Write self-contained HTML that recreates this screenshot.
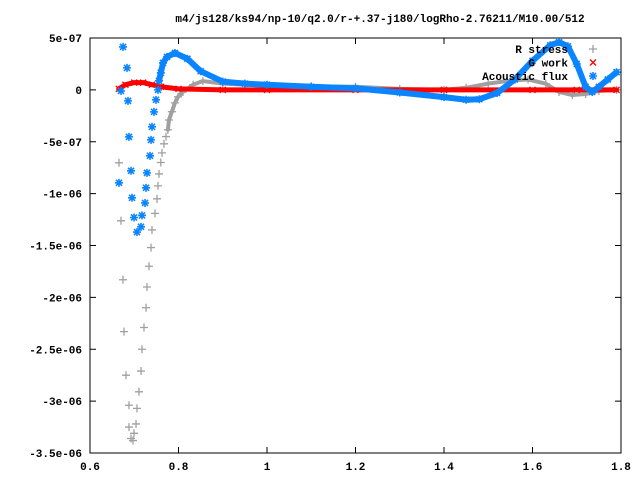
<!DOCTYPE html>
<html><head><meta charset="utf-8"><style>
html,body{margin:0;padding:0;background:#fff}
svg{display:block}
text{font-family:"Liberation Mono",monospace;font-size:11px;font-weight:bold;fill:#000}
</style></head><body>
<svg id="chart" width="640" height="480" xmlns="http://www.w3.org/2000/svg">
<text x="380" y="22" text-anchor="middle">m4/js128/ks94/np-10/q2.0/r-+.37-j180/logRho-2.76211/M10.00/512</text>
<g id="grid"></g>
<g id="series"></g>
<g id="legend"></g>
</svg>
<script>
const xTicks=[0.6,0.8,1,1.2,1.4,1.6,1.8];
const yTicks=[5e-7,0,-5e-7,-1e-6,-1.5e-6,-2e-6,-2.5e-6,-3e-6,-3.5e-6];
const yTickLabels=["5e-07","0","-5e-07","-1e-06","-1.5e-06","-2e-06","-2.5e-06","-3e-06","-3.5e-06"];
const xTickLabels=["0.6","0.8","1","1.2","1.4","1.6","1.8"];
const rStressX=[0.6655,0.670,0.6746,0.6768,0.6814,0.6881,0.6881,0.6927,0.6972,0.6994,0.704,0.7062,0.7107,0.7153,0.7175,0.722,0.7266,0.7288,0.7333,0.7379,0.7401,0.7469,0.7514,0.7537,0.756,0.760,0.7627,0.7672,0.7717];
const rStressY=[-7.03e-7,-1.262e-6,-1.83e-6,-2.33e-6,-2.75e-6,-3.04e-6,-3.25e-6,-3.36e-6,-3.38e-6,-3.31e-6,-3.22e-6,-3.07e-6,-2.91e-6,-2.71e-6,-2.5e-6,-2.29e-6,-2.1e-6,-1.9e-6,-1.7e-6,-1.52e-6,-1.35e-6,-1.19e-6,-1.05e-6,-9.25e-7,-8.1e-7,-7.0e-7,-6.07e-7,-5.2e-7,-4.5e-7];
const rDenseX=[0.776,0.7785,0.785,0.792,0.7989,0.81,0.833,0.855,0.9,1.0,1.1,1.2,1.3,1.4,1.45,1.5,1.55,1.59,1.63,1.66,1.69,1.72,1.75,1.79];
const rDenseY=[-3.85e-7,-2.9e-7,-2.1e-7,-1.25e-7,-0.67e-7,-0.2e-7,0.5e-7,0.85e-7,0.6e-7,0.4e-7,0.35e-7,0.3e-7,0.1e-7,0,0.2e-7,0.6e-7,0.9e-7,1.0e-7,0.6e-7,-0.2e-7,-0.5e-7,-0.4e-7,-0.1e-7,0];
const gWorkX=[0.665,0.68,0.70,0.72,0.74,0.76,0.8,0.9,1.0,1.2,1.4,1.6,1.7,1.79];
const gWorkY=[0.1e-7,0.5e-7,0.7e-7,0.7e-7,0.5e-7,0.3e-7,0.1e-7,0,0,0,0,0,0,0];
const acX=[0.6746,0.6836,0.670,0.6859,0.688,0.6927,0.6655,0.695,0.6994,0.7062,0.7153,0.7175,0.7243,0.7266,0.7288,0.7356,0.7379,0.7401,0.7446,0.7492,0.7537];
const acY=[4.14e-7,2.12e-7,-0.1e-7,-1.06e-7,-4.53e-7,-7.8e-7,-8.96e-7,-1.04e-6,-1.23e-6,-1.37e-6,-1.32e-6,-1.21e-6,-1.09e-6,-9.44e-7,-8.0e-7,-6.36e-7,-4.82e-7,-3.56e-7,-2.12e-7,-0.96e-7,0];
const acDenseX=[0.756,0.760,0.765,0.774,0.792,0.82,0.85,0.9,0.95,1.0,1.1,1.2,1.3,1.4,1.45,1.48,1.52,1.56,1.6,1.64,1.66,1.68,1.70,1.72,1.735,1.75,1.77,1.79];
const acDenseY=[0.87e-7,1.64e-7,2.6e-7,3.18e-7,3.56e-7,3.0e-7,1.8e-7,0.8e-7,0.6e-7,0.5e-7,0.3e-7,0.15e-7,-0.25e-7,-0.7e-7,-0.95e-7,-0.9e-7,-0.3e-7,1.0e-7,2.8e-7,4.3e-7,4.6e-7,4.2e-7,2.5e-7,0.3e-7,-0.2e-7,0.3e-7,1.0e-7,1.7e-7];

const L=90,R=621,T=38,B=453;
const xMin=0.6,xMax=1.8,yMin=-3.5e-6,yMax=5e-7;
const sx=v=>L+(v-xMin)/(xMax-xMin)*(R-L);
const sy=v=>B-(v-yMin)/(yMax-yMin)*(B-T);
const NS="http://www.w3.org/2000/svg";
function mk(tag,parent,attrs){const e=document.createElementNS(NS,tag);for(const k in attrs)e.setAttribute(k,attrs[k]);parent.appendChild(e);return e;}
const grid=document.getElementById('grid');
const ser=document.getElementById('series');
const leg=document.getElementById('legend');
let frame=mk('rect',grid,{x:L,y:T,width:R-L,height:B-T,fill:'none',stroke:'#000','stroke-width':1});


xTicks.forEach((v,i)=>{const x=sx(v);
 mk('line',grid,{x1:x,x2:x,y1:B,y2:B-6,stroke:'#000'});
 mk('line',grid,{x1:x,x2:x,y1:T,y2:T+6,stroke:'#000'});
 const t=mk('text',grid,{x:x,y:B+17,'text-anchor':'middle'});t.textContent=xTickLabels[i];
 
 
});
yTicks.forEach((v,i)=>{const y=sy(v);
 mk('line',grid,{x1:L,x2:L+6,y1:y,y2:y,stroke:'#000'});
 mk('line',grid,{x1:R,x2:R-6,y1:y,y2:y,stroke:'#000'});
 const t=mk('text',grid,{x:L-8,y:y+4,'text-anchor':'end'});t.textContent=yTickLabels[i];
 
 
});
function plus(g,x,y,c){mk('path',g,{d:`M${x-4},${y}h8M${x},${y-4}v8`,stroke:c,'stroke-width':1.3,fill:'none'});}
function cross(g,x,y,c){mk('path',g,{d:`M${x-3},${y-3}l6,6M${x-3},${y+3}l6,-6`,stroke:c,'stroke-width':1.3,fill:'none'});}
function star(g,x,y,c){mk('path',g,{d:`M${x-4},${y}h8M${x},${y-4}v8M${x-3},${y-3}l6,6M${x-3},${y+3}l6,-6`,stroke:c,'stroke-width':1.6,fill:'none'});}
function series(name,xs,ys,dx,dy,c,fn,w){
 const g=mk('g',ser,{});
 
 
 if(dx.length){mk('polyline',g,{points:dx.map((v,i)=>sx(v)+','+sy(dy[i])).join(' '),fill:'none',stroke:c,'stroke-width':w,'stroke-linejoin':'round','stroke-linecap':'round'});
  dx.forEach((v,i)=>fn(g,sx(v),sy(dy[i]),c));}
 xs.forEach((v,i)=>fn(g,sx(v),sy(ys[i]),c));
}
series('r-stress-series',rStressX,rStressY,rDenseX,rDenseY,'#a0a0a0',plus,4);
series('g-work-series',[],[],gWorkX,gWorkY,'#ff0000',cross,5);
series('acoustic-flux-series',acX,acY,acDenseX,acDenseY,'#0a84ff',star,6);
const items=[["R stress",'#a0a0a0',plus],["G work",'#ff0000',cross],["Acoustic flux",'#0a84ff',star]];
items.forEach((it,i)=>{const y=49+i*13.5;
 const t=mk('text',leg,{x:568,y:y+4,'text-anchor':'end'});t.textContent=it[0];
 
 
 it[2](leg,593,y,it[1]);
});
</script>
</body></html>
